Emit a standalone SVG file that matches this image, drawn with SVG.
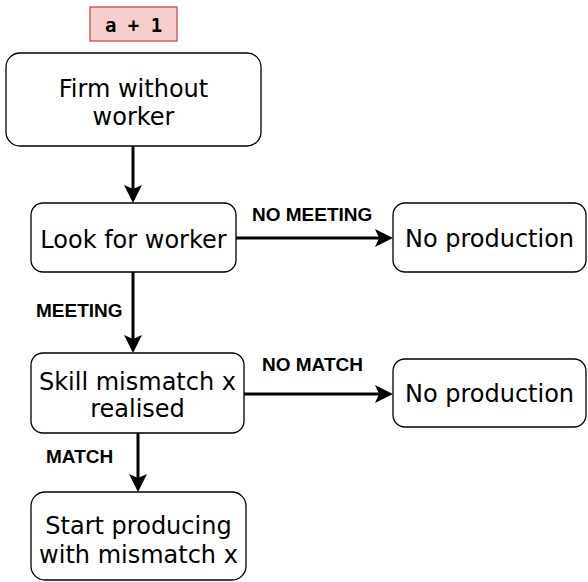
<svg xmlns="http://www.w3.org/2000/svg" width="588" height="582" viewBox="0 0 588 582">
<style>
.box{fill:#fff;stroke:#000;stroke-width:1.3}
.t{font-family:"DejaVu Sans",Verdana,sans-serif;font-size:24px;fill:#000;text-anchor:middle}
.lbl{font-family:"Liberation Sans",Arial,sans-serif;font-weight:bold;font-size:19px;fill:#000}
.edge{fill:none;stroke:#000;stroke-width:3}
</style>
<defs>
<marker id="arr" viewBox="0 0 18 18" refX="4" refY="9" markerWidth="18" markerHeight="18" markerUnits="userSpaceOnUse" orient="auto">
<path d="M0,0 L18,9 L0,18 L4,9 Z" fill="#000"/>
</marker>
</defs>
<g id="tag">
<rect x="90" y="7" width="87" height="34" fill="#f8cecc" stroke="#b85450" stroke-width="1.3"/>
<text x="133.5" y="32" font-family="'DejaVu Sans Mono',monospace" font-weight="bold" font-size="19" text-anchor="middle">a + 1</text>
</g>
<g id="firm">
<rect class="box" x="6" y="53" width="255" height="93" rx="14"/>
<text class="t" x="133.5" y="97">Firm without</text>
<text class="t" x="133.5" y="125">worker</text>
</g>
<g id="look">
<rect class="box" x="31" y="203" width="205" height="69" rx="12"/>
<text class="t" x="133.5" y="248">Look for worker</text>
</g>
<g id="noprod1">
<rect class="box" x="393" y="203" width="193" height="69" rx="12"/>
<text class="t" x="489.5" y="247">No production</text>
</g>
<g id="skill">
<rect class="box" x="31" y="353" width="213" height="80" rx="12"/>
<text class="t" x="137.5" y="390">Skill mismatch x</text>
<text class="t" x="137.5" y="417">realised</text>
</g>
<g id="noprod2">
<rect class="box" x="393" y="359" width="193" height="68" rx="12"/>
<text class="t" x="489.5" y="402">No production</text>
</g>
<g id="start">
<rect class="box" x="31" y="492" width="215" height="88" rx="14"/>
<text class="t" x="138.5" y="534">Start producing</text>
<text class="t" x="138.5" y="563">with mismatch x</text>
</g>
<g id="connectors">
<path class="edge" d="M133,146 L133,189" marker-end="url(#arr)"/>
<path class="edge" d="M236,238 L379,238" marker-end="url(#arr)"/>
<path class="edge" d="M133,272 L133,339" marker-end="url(#arr)"/>
<path class="edge" d="M244,394 L379,394" marker-end="url(#arr)"/>
<path class="edge" d="M138,433 L138,478" marker-end="url(#arr)"/>
<text class="lbl" x="252" y="221">NO MEETING</text>
<text class="lbl" x="36" y="317">MEETING</text>
<text class="lbl" x="262" y="371">NO MATCH</text>
<text class="lbl" x="46" y="463">MATCH</text>
</g>
</svg>
